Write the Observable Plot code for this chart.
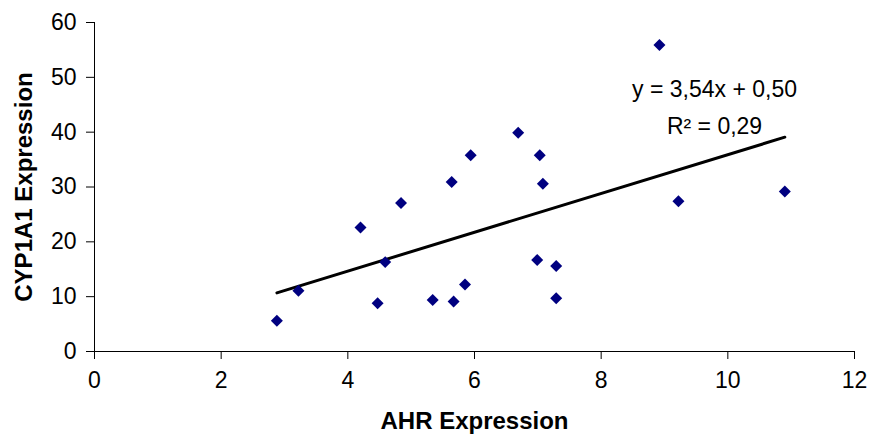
<!DOCTYPE html>
<html>
<head>
<meta charset="utf-8">
<script src="https://cdn.jsdelivr.net/npm/d3@7"></script>
<script src="https://cdn.jsdelivr.net/npm/@observablehq/plot@0.6"></script>
<style>
  html, body { margin: 0; padding: 0; background: #fff; }
  #chart svg { display: block; }
</style>
</head>
<body>
<div id="chart"></div>
<script>
// Data
const ahr    = [2.88, 3.22, 4.20, 4.47, 4.59, 4.84, 5.34, 5.64, 5.67, 5.85, 5.94, 6.69, 7.03, 7.08, 6.99, 7.29, 7.29, 8.92, 9.22, 10.90];
const cyp1a1 = [5.6, 11.1, 22.6, 8.8, 16.3, 27.1, 9.4, 30.9, 9.1, 12.2, 35.8, 39.9, 35.8, 30.6, 16.7, 15.6, 9.7, 55.9, 27.4, 29.2];
const slope = 3.54;
const intercept = 0.50;
const rSquared = "0,29";
const xTicks = [0, 2, 4, 6, 8, 10, 12];
const yTicks = [0, 10, 20, 30, 40, 50, 60];
const xTitle = "AHR Expression";
const yTitle = "CYP1A1 Expression";
const eqLines = ["y = 3,54x + 0,50", "R² = " + rSquared];
const eqPos = {x: 9.79, y: [47.8, 41.1]};

const points = ahr.map((x, i) => ({x, y: cyp1a1[i]}));
const [xmin, xmax] = d3.extent(ahr);
const trend = [xmin, xmax].map(x => ({x, y: slope * x + intercept}));
const eq = eqLines.map((t, i) => ({t, x: eqPos.x, y: eqPos.y[i]}));

const font = "'Liberation Sans', Arial, sans-serif";

const chart = Plot.plot({
  width: 872,
  height: 446,
  marginLeft: 94,
  marginRight: 18,
  marginTop: 22,
  marginBottom: 95,
  style: {fontFamily: font, fontSize: "23px", color: "#000", background: "#fff", overflow: "visible"},
  x: {domain: [0, 12]},
  y: {domain: [0, 60]},
  marks: [
    Plot.ruleX([0], {stroke: "#000", strokeWidth: 1}),
    Plot.ruleY([0], {stroke: "#000", strokeWidth: 1}),
    Plot.axisX({ticks: xTicks, tickSize: 8, tickPadding: 12, label: null, fontSize: 23, stroke: "#000"}),
    Plot.axisY({ticks: yTicks, tickSize: 8, tickPadding: 10, label: null, fontSize: 23, stroke: "#000"}),
    Plot.line(trend, {x: "x", y: "y", stroke: "#000", strokeWidth: 3}),
    Plot.dot(points, {x: "x", y: "y", symbol: "diamond2", r: 5.4, fill: "#000080", stroke: "none"}),
    Plot.text(eq, {x: "x", y: "y", text: "t", fontSize: 23, fill: "#000", textAnchor: "middle"}),
    Plot.text([xTitle], {frameAnchor: "bottom", dy: 77, fontSize: 24, fontWeight: "bold", fill: "#000", textAnchor: "middle"}),
    Plot.text([yTitle], {frameAnchor: "left", dx: -70, rotate: -90, fontSize: 24, fontWeight: "bold", fill: "#000", textAnchor: "middle"})
  ]
});
document.getElementById("chart").appendChild(chart);
</script>
</body>
</html>
